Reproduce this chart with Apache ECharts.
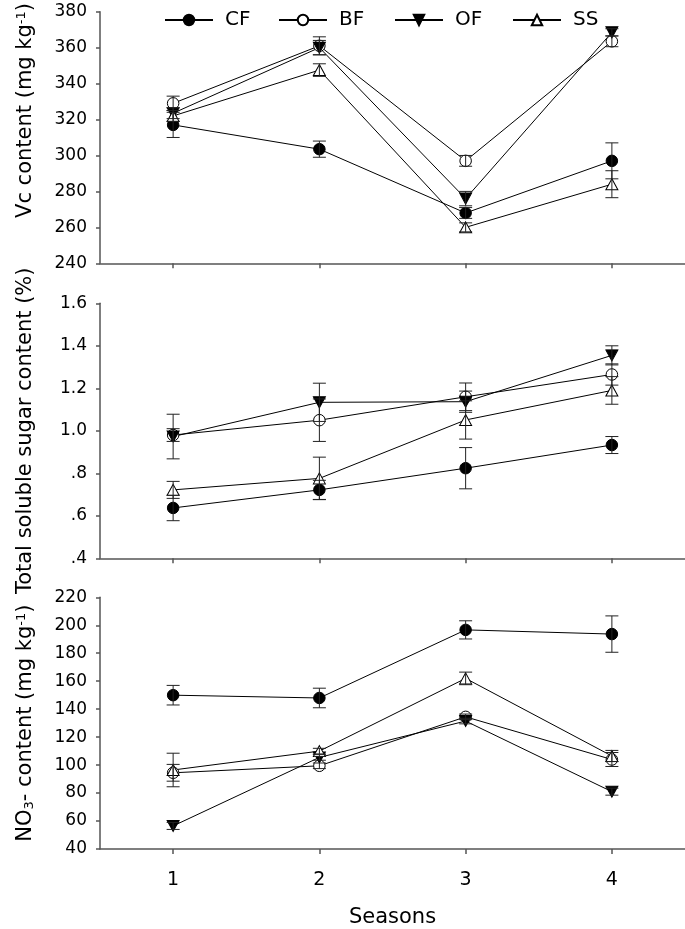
<!DOCTYPE html>
<html><head><meta charset="utf-8">
<script src="https://cdn.jsdelivr.net/npm/echarts@6/dist/echarts.min.js"></script>
<style>html,body{margin:0;padding:0;background:#fff}#c{width:685px;height:929px}</style>
</head><body><div id="c"></div>
<script>
// ---- data ----
const seasons = ['1', '2', '3', '4'];
const groups = ['CF', 'BF', 'OF', 'SS'];

// Vc content (mg kg-1)
const vcCF = [317, 303.5, 268, 297];
const vcCFErr = [7, 4.5, 3, 10];
const vcBF = [329, 361, 297, 363.5];
const vcBFErr = [4, 5, 3, 3];
const vcOF = [323.5, 360, 276, 368.5];
const vcOFErr = [3, 4, 4, 2];
const vcSS = [322, 347.5, 260, 284];
const vcSSErr = [3, 3.5, 2.5, 7.5];

// Total soluble sugar content (%)
const tsCF = [0.637, 0.722, 0.824, 0.933];
const tsCFErr = [0.06, 0.045, 0.097, 0.04];
const tsBF = [0.98, 1.05, 1.16, 1.265];
const tsBFErr = [0.03, 0.1, 0.065, 0.05];
const tsOF = [0.973, 1.134, 1.137, 1.355];
const tsOFErr = [0.105, 0.09, 0.05, 0.045];
const tsSS = [0.722, 0.776, 1.051, 1.19];
const tsSSErr = [0.04, 0.1, 0.09, 0.065];

// NO3- content (mg kg-1)
const noCF = [150, 148, 196.7, 193.7];
const noCFErr = [7, 7, 6.5, 13];
const noBF = [94.5, 99.5, 134.5, 104];
const noBFErr = [6, 2, 2, 5];
const noOF = [56.5, 105.5, 131.5, 81];
const noOFErr = [2.5, 2, 2, 2.5];
const noSS = [96.5, 110, 162, 106.5];
const noSSErr = [12, 2, 4.5, 4];

const vcTicks = {min: 240, max: 380, interval: 20};
const tsTicks = {min: 0.4, max: 1.6, interval: 0.2};
const noTicks = {min: 40, max: 220, interval: 20};

// ---- styling ----
const FONT = 'DejaVu Sans, Verdana, sans-serif';
const AX = '#555';
const symbols = {
  CF: {symbol: 'circle', fill: '#000', size: 11.5},
  BF: {symbol: 'circle', fill: '#fff', size: 11.5},
  OF: {symbol: 'path://M0,0 L10,0 L5,9 Z', fill: '#000', size: [12, 11]},
  SS: {symbol: 'triangle', fill: '#fff', size: [12, 11]}
};

const panels = [
  {vals: [vcCF, vcBF, vcOF, vcSS], errs: [vcCFErr, vcBFErr, vcOFErr, vcSSErr], ticks: vcTicks},
  {vals: [tsCF, tsBF, tsOF, tsSS], errs: [tsCFErr, tsBFErr, tsOFErr, tsSSErr], ticks: tsTicks},
  {vals: [noCF, noBF, noOF, noSS], errs: [noCFErr, noBFErr, noOFErr, noSSErr], ticks: noTicks}
];

const grids = [
  {left: 100, right: 0, top: 6.7, height: 256.6},
  {left: 100, right: 0, top: 303.3, height: 255},
  {left: 100, right: 0, top: 597.3, height: 255.4}
];

const yNames = [
  'Vc content (mg kg{sup|-1})',
  'Total soluble sugar content (%)',
  'NO{sub|3}- content (mg kg{sup|-1})'
];
const yNamePad = [[0, 0, 0, 54], [0, 0, 0, 0], [0, 0, 0, 0]];

function errRender(params, api) {
  const x = api.value(0), y = api.value(1), e = api.value(2);
  const t = api.coord([x, y + e]);
  const b = api.coord([x, y - e]);
  const w = 6.5;
  const st = {stroke: '#222', lineWidth: 1};
  return {type: 'group', children: [
    {type: 'line', shape: {x1: t[0], y1: t[1], x2: b[0], y2: b[1]}, style: st},
    {type: 'line', shape: {x1: t[0] - w, y1: t[1], x2: t[0] + w, y2: t[1]}, style: st},
    {type: 'line', shape: {x1: b[0] - w, y1: b[1], x2: b[0] + w, y2: b[1]}, style: st}
  ]};
}

const xAxes = [], yAxes = [], series = [];
panels.forEach((p, gi) => {
  xAxes.push({
    type: 'category', gridIndex: gi, data: seasons, boundaryGap: true,
    axisLine: {show: true, lineStyle: {color: AX, width: 1.5}},
    axisTick: {show: true, alignWithLabel: true, length: 5, lineStyle: {color: AX, width: 1.5}},
    axisLabel: {show: gi === 2, color: '#000', fontSize: 19, fontFamily: FONT, margin: 22},
    splitLine: {show: false},
    name: gi === 2 ? 'Seasons' : '', nameLocation: 'middle', nameGap: 58,
    nameTextStyle: {color: '#000', fontSize: 21, fontFamily: FONT}
  });
  yAxes.push({
    type: 'value', gridIndex: gi, min: p.ticks.min, max: p.ticks.max, interval: p.ticks.interval,
    axisLine: {show: true, lineStyle: {color: AX, width: 1.5}},
    axisTick: {show: true, length: 4, lineStyle: {color: AX, width: 1.5}},
    axisLabel: {color: '#000', fontSize: 17, fontFamily: FONT, margin: 13,
      formatter: gi === 1 ? (v => { const s = (+v).toFixed(1); return s.startsWith('0') ? s.slice(1) : s; }) : (v => String(Math.round(v)))},
    splitLine: {show: false},
    name: yNames[gi], nameLocation: 'middle', nameRotate: 90, nameGap: 64,
    nameTextStyle: {color: '#000', fontSize: 21, fontFamily: FONT, padding: yNamePad[gi],
      rich: {
        sup: {fontSize: 13, fontFamily: FONT, color: '#000', verticalAlign: 'top', lineHeight: 21},
        sub: {fontSize: 13, fontFamily: FONT, color: '#000', verticalAlign: 'bottom', lineHeight: 14}
      }}
  });
  groups.forEach((g, si) => {
    const s = symbols[g];
    series.push({
      name: g, type: 'line', xAxisIndex: gi, yAxisIndex: gi,
      data: p.vals[si], symbol: s.symbol, symbolSize: s.size, showAllSymbol: true,
      lineStyle: {color: '#000', width: 1},
      itemStyle: {color: s.fill, borderColor: '#000', borderWidth: 1, opacity: 1},
      emphasis: {disabled: true}, animation: false, z: 2
    });
  });
  groups.forEach((g, si) => {
    series.push({
      name: g + ' error', type: 'custom', xAxisIndex: gi, yAxisIndex: gi,
      data: p.vals[si].map((v, i) => [i, v, p.errs[si][i]]),
      encode: {x: 0, y: 1}, renderItem: errRender, animation: false, z: 3, silent: true
    });
  });
});

const legendLefts = [164, 278, 394, 512];
const legends = groups.map((g, i) => ({
  data: [g], left: legendLefts[i], top: 10, orient: 'horizontal',
  itemWidth: 48, itemHeight: 13, selectedMode: false, padding: 0,
  textStyle: {color: '#000', fontSize: 20, fontFamily: FONT, padding: [0, 0, 0, 7]}
}));

const chart = echarts.init(document.getElementById('c'), null, {renderer: 'canvas'});
chart.setOption({
  backgroundColor: '#fff',
  animation: false,
  grid: grids,
  xAxis: xAxes,
  yAxis: yAxes,
  legend: legends,
  series: series
});
</script>
</body></html>
